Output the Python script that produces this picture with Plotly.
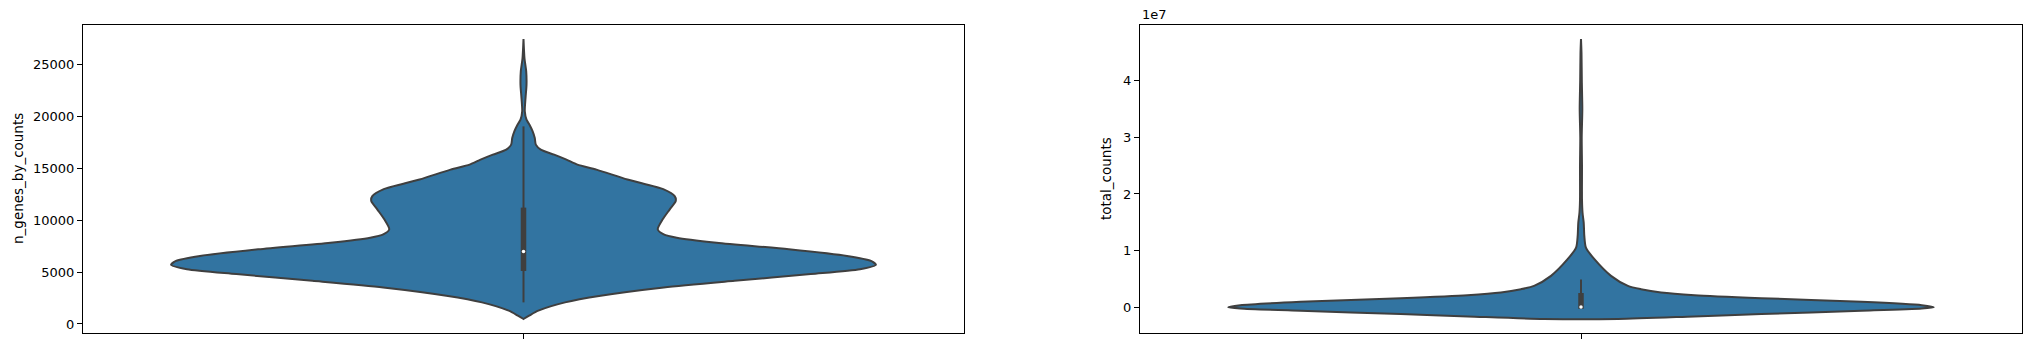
import plotly.graph_objects as go

# ---------------- data ----------------
# Violin 1: n_genes_by_counts  -> y levels and relative half-width (density, max = 1)
genes_y = [480, 800, 1280, 2080, 2720, 3520, 4160, 4800, 5270, 5690, 6070, 6550,
           7190, 7830, 8310, 8630, 9110, 10070, 11030, 11830, 12300, 12950, 13900,
           14860, 15340, 15820, 16300, 16780, 17260, 17900, 18540, 19180, 19660,
           20460, 21740, 23010, 24300, 25570, 27430]
genes_dens = [0.0, 0.016, 0.042, 0.118, 0.219, 0.398, 0.599, 0.815, 0.955, 1.0, 0.986,
              0.918, 0.753, 0.548, 0.435, 0.398, 0.381, 0.395, 0.415, 0.432, 0.429,
              0.398, 0.295, 0.207, 0.153, 0.122, 0.087, 0.049, 0.035, 0.032, 0.026,
              0.017, 0.0085, 0.0037, 0.0057, 0.0085, 0.0077, 0.0028, 0.0]
genes_box = {"whislo": 2080, "q1": 5100, "med": 6970, "q3": 11200, "whishi": 19020}

# Violin 2: total_counts (values in counts)
counts_y = [-0.21e7, -0.165e7, -0.123e7, -0.065e7, -0.024e7, 0.0, 0.035e7, 0.094e7,
            0.159e7, 0.212e7, 0.259e7, 0.317e7, 0.376e7, 0.553e7, 0.847e7, 1.05e7,
            1.26e7, 1.49e7, 1.67e7, 1.9e7, 2.5e7, 3.0e7, 3.5e7, 4.0e7, 4.5e7, 4.74e7]
counts_dens = [0.105, 0.321, 0.511, 0.795, 0.966, 1.0, 0.966, 0.795, 0.511, 0.322,
               0.227, 0.17, 0.133, 0.085, 0.038, 0.014, 0.0094, 0.0077, 0.0043,
               0.0028, 0.0028, 0.002, 0.0037, 0.0023, 0.0014, 0.0]
counts_box = {"whislo": 0.0, "q1": -0.03e7, "med": 0.0, "q3": 0.25e7, "whishi": 0.49e7}

genes_ticks = [0, 5000, 10000, 15000, 20000, 25000]
genes_ticktext = ["0", "5000", "10000", "15000", "20000", "25000"]
counts_ticks = [0, 1e7, 2e7, 3e7, 4e7]
counts_ticktext = ["0", "1", "2", "3", "4"]
ylabels = ["n_genes_by_counts", "total_counts"]

# ---------------- styling ----------------
FILL = "#3274a1"
EDGE = "#3f3f3f"
FONT = "DejaVu Sans"
HALF = 0.4  # seaborn width 0.8

W, H = 2030, 348
dom1 = [83 / W, 964 / W]
dom2 = [1140 / W, 2022 / W]
ydom = [1 - 333 / H, 1 - 25 / H]

fig = go.Figure()


def add_violin(ys, dens, box, xa, ya):
    xs = [-HALF * d for d in dens] + [HALF * d for d in reversed(dens)]
    yy = list(ys) + list(reversed(ys))
    xs.append(xs[0])
    yy.append(yy[0])
    fig.add_trace(go.Scatter(x=xs, y=yy, mode="lines", fill="toself", fillcolor=FILL,
                             line=dict(color=EDGE, width=2, shape="spline", smoothing=0.7),
                             xaxis=xa, yaxis=ya, hoverinfo="skip", showlegend=False))
    # whisker
    fig.add_trace(go.Scatter(x=[0, 0], y=[box["whislo"], box["whishi"]], mode="lines",
                             line=dict(color=EDGE, width=2), xaxis=xa, yaxis=ya,
                             hoverinfo="skip", showlegend=False))
    # box
    fig.add_trace(go.Scatter(x=[0, 0], y=[box["q1"], box["q3"]], mode="lines",
                             line=dict(color=EDGE, width=5.5), xaxis=xa, yaxis=ya,
                             hoverinfo="skip", showlegend=False))
    # median
    fig.add_trace(go.Scatter(x=[0], y=[box["med"]], mode="markers",
                             marker=dict(color="white", size=3.5, line=dict(width=0)),
                             xaxis=xa, yaxis=ya, hoverinfo="skip", showlegend=False))


add_violin(genes_y, genes_dens, genes_box, "x", "y")
add_violin(counts_y, counts_dens, counts_box, "x2", "y2")

axis_common = dict(showgrid=False, zeroline=False, showline=True, mirror=True,
                   linecolor="black", linewidth=1.1, ticks="outside", ticklen=5,
                   tickwidth=1.1, tickcolor="black",
                   tickfont=dict(family=FONT, size=13, color="black"))

xcommon = dict(axis_common, range=[-0.5, 0.5], tickvals=[0], ticktext=[""])

g_lo, g_hi = min(genes_y), max(genes_y)
g_pad = 0.05 * (g_hi - g_lo)
c_lo, c_hi = min(counts_y), max(counts_y)
c_pad = 0.05 * (c_hi - c_lo)

fig.update_layout(
    width=W, height=H,
    margin=dict(l=0, r=0, t=0, b=0),
    paper_bgcolor="white", plot_bgcolor="white",
    xaxis=dict(xcommon, domain=dom1, anchor="y"),
    yaxis=dict(axis_common, domain=ydom, anchor="x", range=[g_lo - g_pad, g_hi + g_pad],
               tickvals=genes_ticks, ticktext=genes_ticktext),
    xaxis2=dict(xcommon, domain=dom2, anchor="y2"),
    yaxis2=dict(axis_common, domain=ydom, anchor="x2", range=[c_lo - c_pad, c_hi + c_pad],
                tickvals=counts_ticks, ticktext=counts_ticktext),
    annotations=[
        dict(text=ylabels[0], x=18 / W, y=(ydom[0] + ydom[1]) / 2, xref="paper", yref="paper",
             textangle=-90, showarrow=False, xanchor="center", yanchor="middle",
             font=dict(family=FONT, size=13.5, color="black")),
        dict(text=ylabels[1], x=1106 / W, y=(ydom[0] + ydom[1]) / 2, xref="paper", yref="paper",
             textangle=-90, showarrow=False, xanchor="center", yanchor="middle",
             font=dict(family=FONT, size=13.5, color="black")),
        dict(text="1e7", x=1140 / W, y=ydom[1], xref="paper", yref="paper",
             showarrow=False, xanchor="left", yanchor="bottom", yshift=1,
             font=dict(family=FONT, size=13, color="black")),
    ],
)

fig.write_html("out.html")
